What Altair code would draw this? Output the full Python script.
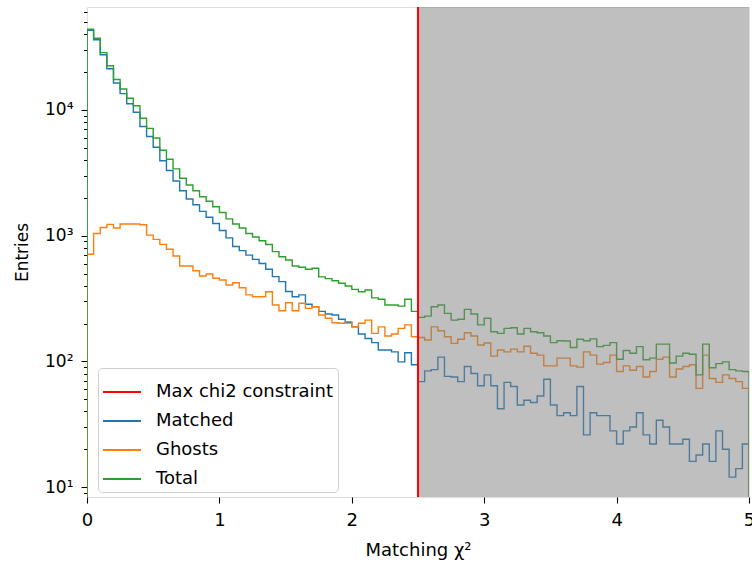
import altair as alt
import pandas as pd

# ---------------- data ----------------
x_min, x_max, n_bins = 0.0, 5.0, 100
chi2_cut = 2.5
series_names = ["Max chi2 constraint", "Matched", "Ghosts", "Total"]
series_colors = ["#ff0000", "#1f77b4", "#ff7f0e", "#2ca02c"]

matched = [43000, 36200, 27500, 21300, 16400, 13500, 11200, 9600, 7400, 6150,
           5050, 3950, 3300, 2720, 2280, 1960, 1760, 1560, 1400, 1250,
           1100, 960, 820, 760, 700, 648, 600, 540, 472, 431,
           360, 327, 338, 285, 272, 250, 238, 234, 216, 203,
           188, 165, 152, 141, 123, 123, 119, 99, 117, 94,
           69, 84, 86, 108, 76, 75, 69, 91, 80, 64,
           78, 64, 42, 68, 63, 45, 49, 47, 53, 72,
           45, 37, 39, 37, 63, 26, 39, 37, 37, 28,
           22, 28, 30, 39, 26, 22, 34, 30, 22, 22,
           24, 16, 18, 22, 16, 28, 20, 12, 14, 22]

ghosts = [711, 1040, 1160, 1230, 1150, 1240, 1240, 1240, 1220, 1010,
          935, 853, 779, 689, 574, 574, 526, 478, 496, 458,
          444, 405, 422, 385, 338, 327, 327, 358, 281, 253,
          293, 253, 290, 264, 272, 234, 220, 203, 201, 207,
          188, 201, 213, 167, 188, 159, 165, 183, 195, 157,
          155, 148, 188, 175, 157, 139, 150, 169, 159, 135,
          140, 110, 123, 119, 125, 119, 132, 116, 112, 92,
          92, 106, 106, 92, 90, 119, 112, 95, 98, 112,
          83, 92, 85, 91, 75, 83, 104, 108, 75, 87,
          91, 94, 61, 112, 73, 68, 78, 73, 69, 61]

total = [43900, 37200, 28600, 22500, 17500, 14700, 12400, 10800, 8600, 7140,
         5980, 4780, 4060, 3400, 2860, 2530, 2280, 2040, 1880, 1700,
         1530, 1360, 1240, 1150, 1040, 975, 910, 850, 747, 680,
         640, 574, 560, 540, 550, 470, 455, 438, 418, 398,
         374, 358, 370, 320, 312, 281, 281, 275, 312, 250,
         224, 229, 272, 281, 241, 213, 216, 259, 238, 195,
         220, 172, 167, 183, 185, 165, 183, 172, 169, 159,
         141, 146, 145, 129, 150, 146, 151, 131, 134, 141,
         104, 122, 116, 131, 103, 106, 137, 137, 97, 110,
         116, 114, 78, 137, 89, 96, 99, 86, 84, 83]

y_domain = [8.33, 66000]
y_major = [10, 100, 1000, 10000]
y_minor = [9] + [m * 10 ** k for k in range(1, 5) for m in range(2, 10) if m * 10 ** k <= 66000]

# ---------------- layout ----------------
W, H = 662, 490
PAD = {"left": 87, "top": 7, "right": 3, "bottom": 65}
FONT = "DejaVu Sans"
FS = 18

bin_w = (x_max - x_min) / n_bins
floor_val = 1.0  # below the axis, clipped (matplotlib's step outline goes to the bottom)


def step_frame(name, counts):
    rows = [{"x": x_min, "y": floor_val, "i": -1, "series": name}]
    for i, c in enumerate(counts):
        rows.append({"x": x_min + i * bin_w, "y": c, "i": i, "series": name})
    rows.append({"x": x_max, "y": counts[-1], "i": n_bins, "series": name})
    rows.append({"x": x_max, "y": floor_val, "i": n_bins + 1, "series": name})
    return pd.DataFrame(rows)


color_scale = alt.Scale(domain=series_names, range=series_colors)
x_scale = alt.Scale(domain=[x_min, x_max], nice=False, zero=False)
y_scale = alt.Scale(type="log", domain=y_domain, nice=False)

major_test = " || ".join(f"datum.value == {v}" for v in y_major)
y_label_expr = ("datum.value == 10 ? '10¹' : datum.value == 100 ? '10²' : "
                "datum.value == 1000 ? '10³' : datum.value == 10000 ? '10⁴' : ''")

x_axis = alt.Axis(values=[0, 1, 2, 3, 4, 5], format="d", title="Matching χ²",
                  labelFontSize=FS, titleFontSize=FS, titleFontWeight="normal",
                  labelColor="black", titleColor="black", tickColor="black",
                  tickSize=6, tickWidth=1.1, labelPadding=8, labelFlush=False,
                  domain=False, grid=False,
                  titleY=53, titleBaseline="middle", labelFont=FONT, titleFont=FONT)
y_axis = alt.Axis(values=sorted(y_major + y_minor), labelExpr=y_label_expr, title="Entries",
                  labelFontSize=17, titleFontSize=17, titleFontWeight="normal",
                  labelColor="black", titleColor="black", tickColor="black",
                  tickSize={"condition": {"test": major_test, "value": 6}, "value": 3.5},
                  tickWidth=1.0, labelPadding=8, labelFlush=False, domain=False, grid=False,
                  titleX=-65, titleY=H / 2, titleBaseline="middle", titleAngle=-90,
                  labelFont=FONT, titleFont=FONT)

legend = alt.Legend(orient="none", legendX=11, legendY=361, title=None,
                    symbolType="stroke", symbolSize=1444, symbolStrokeWidth=2,
                    labelFontSize=18, labelFont=FONT, labelColor="black", labelOffset=14,
                    labelLimit=0, padding=4, fillColor="white", strokeColor="#d0d0d0",
                    cornerRadius=4, rowPadding=0)


def hist_layer(name, counts):
    return alt.Chart(step_frame(name, counts)).mark_line(
        interpolate="step-after", strokeWidth=1.4, clip=True
    ).encode(
        x=alt.X("x:Q", scale=x_scale, axis=x_axis),
        y=alt.Y("y:Q", scale=y_scale, axis=y_axis),
        order=alt.Order("i:Q"),
        color=alt.Color("series:N", scale=color_scale, legend=legend),
    )


matched_l = hist_layer("Matched", matched)
ghosts_l = hist_layer("Ghosts", ghosts)
total_l = hist_layer("Total", total)

span = alt.Chart(pd.DataFrame({"x": [chi2_cut], "x2": [x_max]})).mark_rect(
    color="#808080", opacity=0.5, clip=True
).encode(
    x=alt.X("x:Q", scale=x_scale, axis=x_axis),
    x2="x2:Q",
    y=alt.value(0),
    y2=alt.value(H),
)

cut = alt.Chart(pd.DataFrame({"x": [chi2_cut], "series": [series_names[0]]})).mark_rule(
    strokeWidth=2.1
).encode(
    x=alt.X("x:Q", scale=x_scale, axis=x_axis),
    color=alt.Color("series:N", scale=color_scale, legend=legend),
)

chart = alt.layer(matched_l, ghosts_l, total_l, span, cut).properties(
    width=W, height=H,
    autosize=alt.AutoSizeParams(type="none"),
    padding=PAD,
).configure_view(
    stroke="black", strokeWidth=1.2
).configure(
    font=FONT, background="white"
)

chart.save("out.html", embed_options={"renderer": "svg", "actions": False})
